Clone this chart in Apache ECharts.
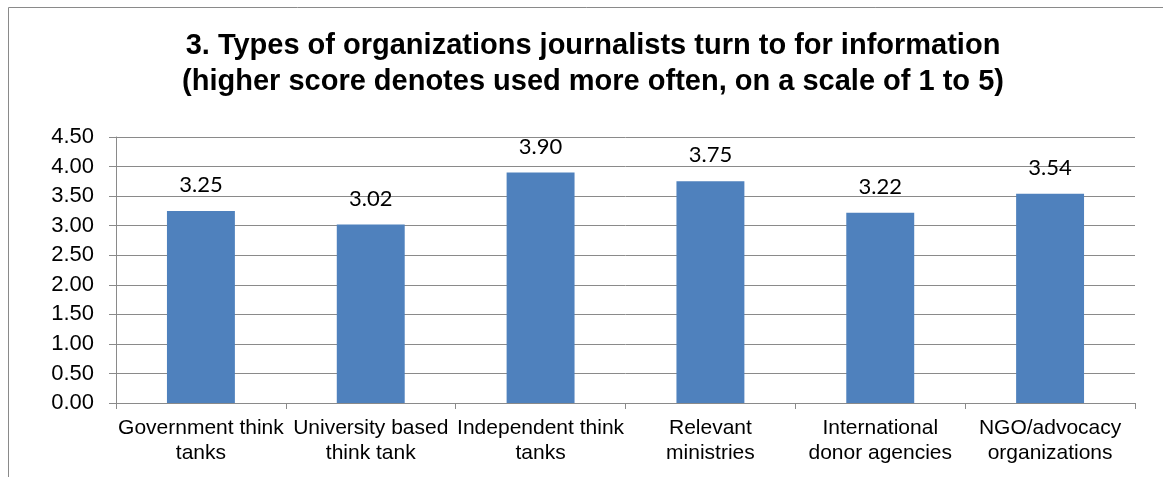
<!DOCTYPE html>
<html>
<head>
<meta charset="utf-8">
<script src="https://cdn.jsdelivr.net/npm/echarts@6/dist/echarts.min.js"></script>
<style>
html,body{margin:0;padding:0;background:#fff;}
#chart{width:1163px;height:477px;}
</style>
</head>
<body>
<div id="chart"></div>
<script>
// Organisation types and their mean usage scores (1-5 scale)
const categories = [
  'Government think\ntanks',
  'University based\nthink tank',
  'Independent think\ntanks',
  'Relevant\nministries',
  'International\ndonor agencies',
  'NGO/advocacy\norganizations'
];
const scores = [3.25, 3.02, 3.90, 3.75, 3.22, 3.54];
const yTicks = { min: 0, max: 4.5, interval: 0.5 };

const chart = echarts.init(document.getElementById('chart'), null, { renderer: 'canvas' });
const gridColor = '#8a8a8a';

chart.setOption({
  animation: false,
  backgroundColor: '#fff',
  graphic: [{
    type: 'rect',
    shape: { x: 8.5, y: 7.5, width: 1200, height: 520 },
    style: { fill: 'none', stroke: '#8a8a8a', lineWidth: 1 },
    silent: true
  }],
  title: {
    text: '3. Types of organizations journalists turn to for information\n(higher score denotes used more often, on a scale of 1 to 5)',
    left: 588,
    textAlign: 'center',
    top: 23,
    textStyle: {
      fontFamily: '"Liberation Sans", Arial, sans-serif',
      fontWeight: 'bold',
      fontSize: 29,
      lineHeight: 36,
      color: '#000'
    }
  },
  grid: { left: 116, right: 28, top: 137, bottom: 74, containLabel: false },
  xAxis: {
    type: 'category',
    data: categories,
    boundaryGap: true,
    axisLine: { lineStyle: { color: gridColor, width: 1 } },
    axisTick: { show: true, length: 6, lineStyle: { color: gridColor } },
    axisLabel: {
      interval: 0,
      margin: 13,
      fontFamily: '"Liberation Sans", Arial, sans-serif',
      fontSize: 21,
      lineHeight: 25,
      color: '#000'
    }
  },
  yAxis: {
    type: 'value',
    min: yTicks.min,
    max: yTicks.max,
    interval: yTicks.interval,
    axisLine: { show: true, lineStyle: { color: gridColor, width: 1 } },
    axisTick: { show: true, length: 7, lineStyle: { color: gridColor } },
    splitLine: { show: true, lineStyle: { color: gridColor, width: 1 } },
    axisLabel: {
      margin: 22,
      formatter: v => v.toFixed(2),
      fontFamily: '"Liberation Sans", Arial, sans-serif',
      fontSize: 22,
      color: '#000'
    }
  },
  series: [{
    type: 'bar',
    data: scores,
    barWidth: '40%',
    itemStyle: { color: '#4F81BD' },
    label: {
      show: true,
      position: 'top',
      distance: 15,
      formatter: p => p.value.toFixed(2),
      fontFamily: 'Lato, "Open Sans", sans-serif',
      fontSize: 22,
      color: '#000'
    }
  }]
});
</script>
</body>
</html>
